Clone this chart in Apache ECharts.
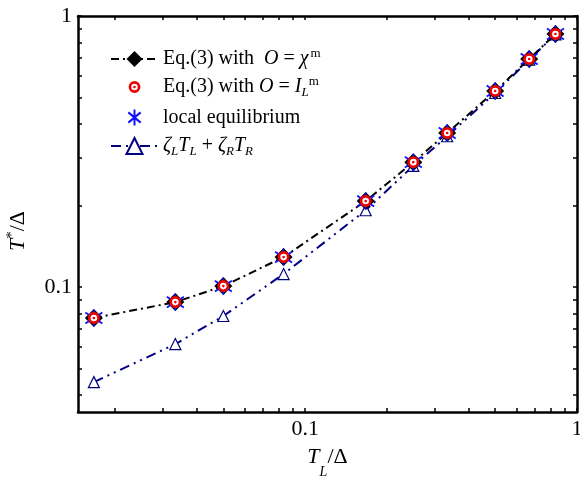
<!DOCTYPE html>
<html>
<head>
<meta charset="utf-8">
<script src="https://cdn.jsdelivr.net/npm/echarts@6/dist/echarts.min.js"></script>
<style>
  html, body { margin: 0; padding: 0; background: #fff; }
  #chart { width: 580px; height: 477px; }
</style>
</head>
<body>
<div id="chart"></div>
<script>
// T_L / Delta
const tL = [0.0167, 0.0333, 0.05, 0.0833, 0.167, 0.25, 0.333, 0.5, 0.667, 0.833]
// T* / Delta
const eqChi = [0.0769, 0.088, 0.1008, 0.129, 0.2076, 0.289, 0.370, 0.529, 0.694, 0.858]
const eqIL = [0.0769, 0.088, 0.1008, 0.129, 0.2076, 0.289, 0.370, 0.529, 0.694, 0.858]
const localEq = [0.0769, 0.088, 0.1008, 0.129, 0.2076, 0.289, 0.370, 0.529, 0.694, 0.858]
const zetaMix = [0.0446, 0.0616, 0.0782, 0.1117, 0.192, 0.28, 0.36, 0.52, 0.69, 0.855]

const xTicks = [0.02, 0.03, 0.04, 0.05, 0.06, 0.07, 0.08, 0.09, 0.1, 0.2, 0.3, 0.4, 0.5, 0.6, 0.7, 0.8, 0.9, 1]
const yTicks = [0.04, 0.05, 0.06, 0.07, 0.08, 0.09, 0.1, 0.2, 0.3, 0.4, 0.5, 0.6, 0.7, 0.8, 0.9, 1]
const tickLabels = [0.1, 1]

const FONT = 'Liberation Serif'
const NAVY = '#000080'

const pairs = (ys) => tL.map((x, i) => [x, ys[i]])

const ring = 'M-10 0A10 10 0 1 0 10 0A10 10 0 1 0 -10 0Z' +
  'M-5.5 0A5.5 5.5 0 1 1 5.5 0A5.5 5.5 0 1 1 -5.5 0Z' +
  'M-2.2 0A2.2 2.2 0 1 0 2.2 0A2.2 2.2 0 1 0 -2.2 0Z'
const star = 'M0 -10L0 10M-7.7 -6.4L7.7 6.4M-7.7 6.4L7.7 -6.4'
// tiny invisible corner segments so the legend icon keeps some room round it
const pad = (r) => `M${-r} ${-r}L${-r} ${-r + 0.01}M${r} ${r}L${r} ${r - 0.01}`

const legendText = {
  chi: '{n|Eq.(3) with  }{i|O}{n| = }{i|χ}{sup|m}',
  il: '{n|Eq.(3) with }{i|O}{n| = }{i|I}{subsup|L}{sup2|m}',
  loc: '{n|local equilibrium}',
  zeta: '{i|ζ}{sub|L}{i|T}{sub|L}{n| + }{i|ζ}{sub|R}{i|T}{sub|R}'
}

const baseAxis = {
  type: 'log',
  logBase: 10,
  axisLine: { show: true, onZero: false, lineStyle: { color: '#000', width: 2.5 } },
  axisTick: { show: true, inside: true, length: 4, lineStyle: { color: '#000', width: 1.5 } },
  splitLine: { show: false },
  minorTick: { show: false }
}

const labelStyle = {
  fontFamily: FONT,
  fontSize: 22,
  color: '#000',
  formatter: (v) => (v >= 1 ? '1' : '0.1')
}

const chart = echarts.init(document.getElementById('chart'), null, { renderer: 'canvas' })

chart.setOption({
  animation: false,
  backgroundColor: '#fff',
  grid: { left: 78, right: 3, top: 16, bottom: 65, outerBoundsMode: 'none', containLabel: false },
  legend: {
    orient: 'vertical',
    left: 110,
    top: 47,
    padding: 0,
    itemWidth: 47,
    itemHeight: 20,
    itemGap: 6,
    data: [
      { name: 'chi' },
      { name: 'il', icon: 'path://' + ring + pad(17) },
      { name: 'loc', icon: 'path://' + star + pad(12.5) },
      { name: 'zeta' }
    ],
    formatter: (name) => legendText[name],
    textStyle: {
      fontFamily: FONT,
      fontSize: 20,
      color: '#000',
      rich: {
        n: { fontFamily: FONT, fontSize: 20, lineHeight: 24, color: '#000' },
        i: { fontFamily: FONT, fontSize: 20, fontStyle: 'italic', lineHeight: 24, color: '#000' },
        sup: { fontFamily: FONT, fontSize: 13, lineHeight: 13, verticalAlign: 'top', padding: [0, 0, 0, 2], color: '#000' },
        sup2: { fontFamily: FONT, fontSize: 13, lineHeight: 13, verticalAlign: 'top', color: '#000' },
        subsup: { fontFamily: FONT, fontSize: 13, fontStyle: 'italic', lineHeight: 13, verticalAlign: 'bottom', color: '#000' },
        sub: { fontFamily: FONT, fontSize: 13, fontStyle: 'italic', lineHeight: 13, verticalAlign: 'bottom', color: '#000' }
      }
    }
  },
  xAxis: [
    Object.assign({}, baseAxis, {
      position: 'bottom',
      min: 0.0146,
      max: 1,
      axisTick: Object.assign({}, baseAxis.axisTick, { customValues: xTicks }),
      axisLabel: Object.assign({}, labelStyle, { margin: 6, customValues: tickLabels }),
      name: '{i|T}{sub|L}{n|/Δ}',
      nameLocation: 'middle',
      nameMoveOverlap: false,
      nameGap: 34,
      nameTextStyle: {
        rich: {
          n: { fontFamily: FONT, fontSize: 22, lineHeight: 22, verticalAlign: 'top', color: '#000' },
          i: { fontFamily: FONT, fontSize: 22, fontStyle: 'italic', lineHeight: 22, verticalAlign: 'top', color: '#000' },
          sub: { fontFamily: FONT, fontSize: 14, fontStyle: 'italic', lineHeight: 52, color: '#000' }
        }
      }
    }),
    Object.assign({}, baseAxis, {
      position: 'top',
      min: 0.0146,
      max: 1,
      axisTick: Object.assign({}, baseAxis.axisTick, { customValues: xTicks }),
      axisLabel: { show: false }
    })
  ],
  yAxis: [
    Object.assign({}, baseAxis, {
      position: 'left',
      min: 0.0346,
      max: 1,
      axisTick: Object.assign({}, baseAxis.axisTick, { customValues: yTicks }),
      axisLabel: Object.assign({}, labelStyle, { margin: 6, customValues: tickLabels }),
      name: '{i|T}{sup|*}{n|/Δ}',
      nameLocation: 'middle',
      nameRotate: 90,
      nameGap: 47,
      nameTextStyle: {
        padding: [0, 34, 0, 0],
        rich: {
          n: { fontFamily: FONT, fontSize: 22, lineHeight: 26, color: '#000' },
          i: { fontFamily: FONT, fontSize: 22, fontStyle: 'italic', lineHeight: 26, color: '#000' },
          sup: { fontFamily: FONT, fontSize: 15, lineHeight: 15, verticalAlign: 'top', color: '#000' }
        }
      }
    }),
    Object.assign({}, baseAxis, {
      position: 'right',
      min: 0.0346,
      max: 1,
      axisTick: Object.assign({}, baseAxis.axisTick, { customValues: yTicks }),
      axisLabel: { show: false }
    })
  ],
  series: [
    {
      name: 'zeta',
      type: 'line',
      z: 1,
      data: pairs(zetaMix),
      symbol: 'triangle',
      symbolSize: 11,
      lineStyle: { color: NAVY, width: 2, type: [10, 5, 2, 5, 2, 5] },
      itemStyle: { color: '#fff', borderColor: NAVY, borderWidth: 1.2 }
    },
    {
      name: 'chi',
      type: 'line',
      z: 2,
      data: pairs(eqChi),
      symbol: 'diamond',
      symbolSize: 18,
      lineStyle: { color: '#000', width: 2, type: [8, 4, 2, 4] },
      itemStyle: { color: '#000' }
    },
    {
      name: 'loc',
      type: 'scatter',
      z: 3,
      data: pairs(localEq),
      symbol: 'path://' + star,
      symbolSize: 17,
      itemStyle: { color: 'none', borderColor: '#1010ff', borderWidth: 1.8, opacity: 1 }
    },
    {
      type: 'scatter',
      z: 4,
      data: pairs(eqIL),
      symbol: 'circle',
      symbolSize: 11,
      itemStyle: { color: '#fff', opacity: 1 }
    },
    {
      name: 'il',
      type: 'scatter',
      z: 5,
      data: pairs(eqIL),
      symbol: 'path://' + ring,
      symbolSize: 12,
      itemStyle: { color: '#ee0000', opacity: 1 }
    }
  ]
})
</script>
</body>
</html>
